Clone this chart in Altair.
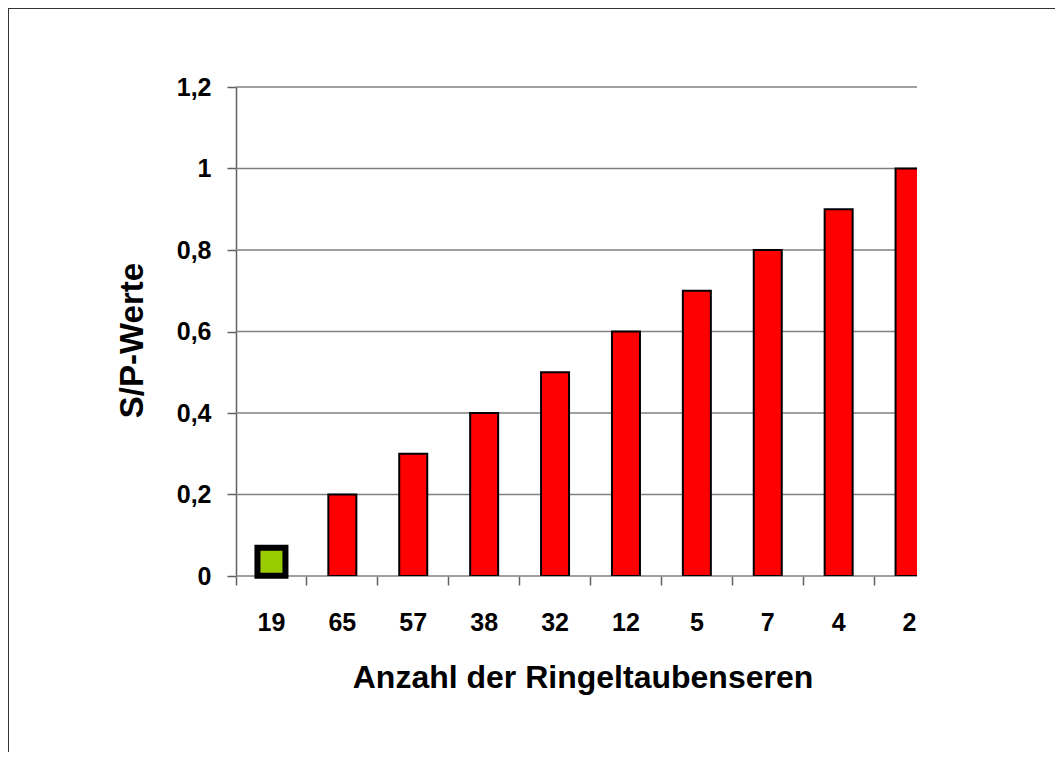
import altair as alt
import pandas as pd

# ---- data ----
categories = ["19", "65", "57", "38", "32", "12", "5", "7", "4", "2"]
bar_categories = ["65", "57", "38", "32", "12", "5", "7", "4", "2"]
bar_values = [0.2, 0.3, 0.4, 0.5, 0.6, 0.7, 0.8, 0.9, 1.0]
marker_categories = ["19"]
marker_values = [0.035]
y_ticks = [0, 0.2, 0.4, 0.6, 0.8, 1.0, 1.2]

bars_df = pd.DataFrame({"Anzahl": bar_categories, "SP": bar_values})
marker_df = pd.DataFrame({"Anzahl": marker_categories, "SP": marker_values})
grid_df = pd.DataFrame({"SP": y_ticks})
frame_df = pd.DataFrame({"k": [0]})

FONT = "Liberation Sans"
GRID = "#808080"
AXIS = "#606060"
PLOT_W = 681

x_enc = alt.X(
    "Anzahl:N",
    sort=categories,
    scale=alt.Scale(domain=categories, range=[0, 709], paddingInner=0, paddingOuter=0),
    axis=alt.Axis(
        title="Anzahl der Ringeltaubenseren",
        titleFont=FONT, titleFontSize=32, titleFontWeight="bold", titleColor="black",
        titleX=346.5, titleY=111, titleBaseline="alphabetic", titleAlign="center",
        labelFont=FONT, labelFontSize=25, labelFontWeight="bold", labelColor="black",
        labelAngle=0, labelBaseline="alphabetic", labelPadding=45,
        domain=False, grid=False,
        ticks=True, tickSize=9, tickColor=AXIS, tickWidth=1.5,
        bandPosition=0, tickExtra=False,
    ),
)

y_scale = alt.Scale(domain=[0, 1.2], nice=False, zero=True)
y_enc = alt.Y(
    "SP:Q",
    scale=y_scale,
    axis=alt.Axis(
        title="S/P-Werte",
        titleFont=FONT, titleFontSize=33, titleFontWeight="bold", titleColor="black",
        titleX=-94, titleY=253, titleBaseline="alphabetic", titleAlign="center", titleAngle=270,
        labelFont=FONT, labelFontSize=25, labelFontWeight="bold", labelColor="black",
        labelPadding=16, values=y_ticks,
        labelExpr="replace(toString(datum.value), '.', ',')",
        domain=True, domainColor=AXIS, domainWidth=1.5,
        ticks=True, tickSize=9, tickColor=AXIS, tickWidth=1.5,
        grid=False,
    ),
)

# horizontal gridlines across the visible plot width only (drawn behind bars)
grid = alt.Chart(grid_df).mark_rule(color=GRID, strokeWidth=1.5).encode(
    y=y_enc, x=alt.value(0), x2=alt.value(PLOT_W)
)

bars = alt.Chart(bars_df).mark_bar(
    size=28, color="#FF0000", stroke="black", strokeWidth=2, clip=True
).encode(x=x_enc, y=y_enc)

marker = alt.Chart(marker_df).mark_square(
    size=784, fill="#99CC00", stroke="black", strokeWidth=6, opacity=1, filled=True
).encode(x=alt.X("Anzahl:N", sort=categories), y=y_enc)

# outer frame of the picture (decoration)
frame_top = alt.Chart(frame_df).mark_rule(color="#333333", strokeWidth=2).encode(
    x=alt.value(-228), x2=alt.value(819), y=alt.value(-79)
)
frame_left = alt.Chart(frame_df).mark_rule(color="#333333", strokeWidth=2).encode(
    x=alt.value(-228), y=alt.value(-79), y2=alt.value(665)
)

chart = alt.layer(grid, bars, marker, frame_top, frame_left).properties(
    width=PLOT_W,
    height=489,
    autosize=alt.AutoSizeParams(type="none"),
    padding={"left": 228, "top": 79, "right": 138, "bottom": 176},
    background="white",
).configure_view(stroke=None)

chart.save("out.html", embed_options={"renderer": "svg", "actions": False})
